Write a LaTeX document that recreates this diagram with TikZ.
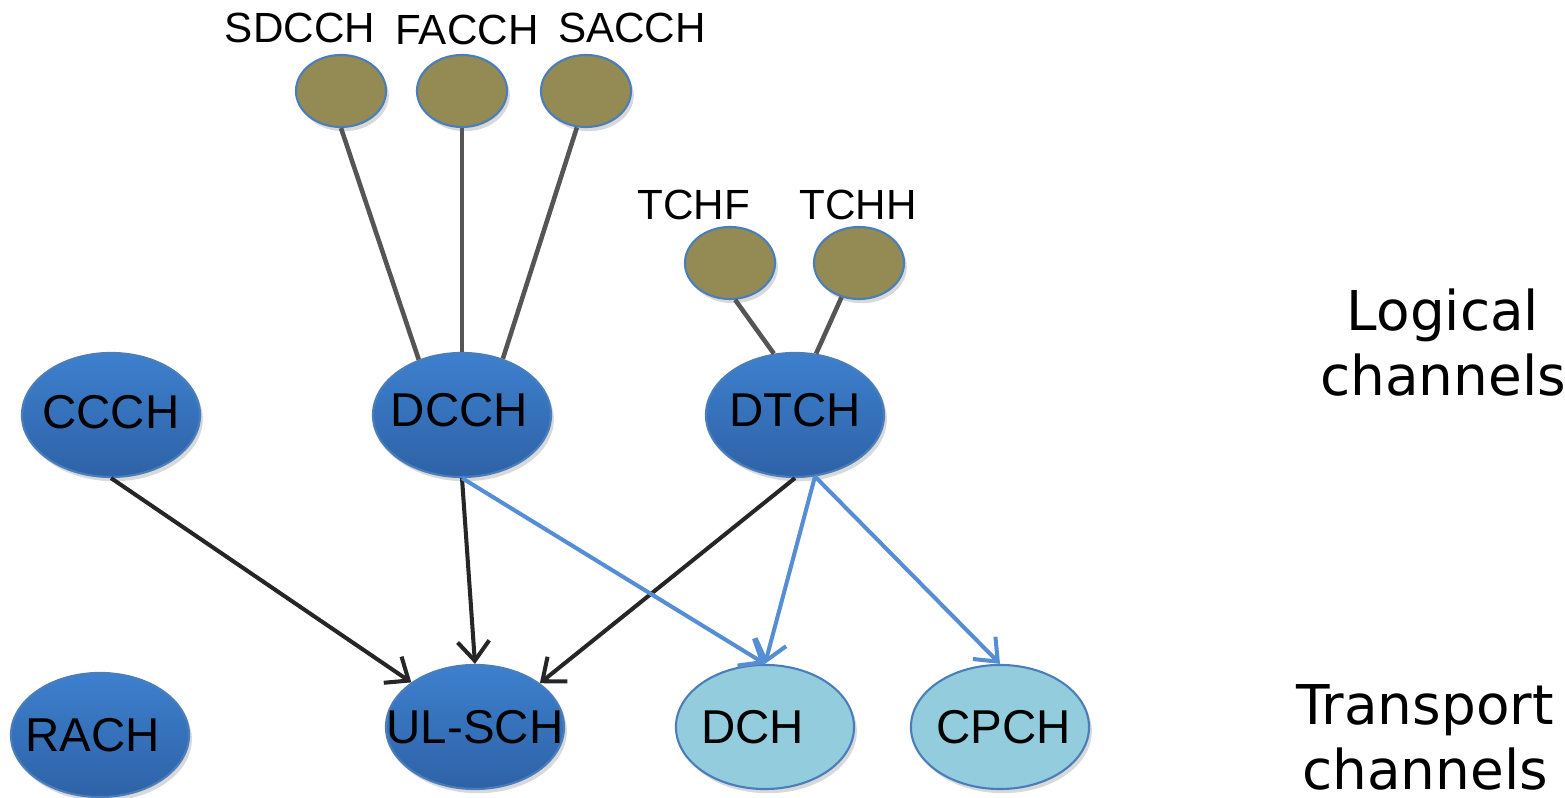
\documentclass[tikz,border=0pt]{standalone}
\usepackage{fontspec}
\setmainfont{Liberation Sans}
\newfontfamily\sidefont{DejaVu Sans}
\usetikzlibrary{shapes.geometric,arrows.meta,shadows}

\definecolor{chantop}{HTML}{3D80CE}
\definecolor{chanbot}{HTML}{2E62A6}
\definecolor{chanline}{HTML}{4A7EBB}
\definecolor{subfill}{HTML}{948A54}
\definecolor{trfill}{HTML}{93CDDD}
\definecolor{linkgray}{HTML}{555555}
\definecolor{mapblack}{HTML}{262626}
\definecolor{mapblue}{HTML}{558ED5}

% text that does not widen its ellipse, optionally raised
\newcommand{\chantxt}[2][0pt]{\makebox[0pt]{\raisebox{#1}{#2}}}

\begin{document}
\begin{tikzpicture}[x=0.01cm,y=-0.01cm,
  chan node/.style={ellipse,draw=chanline,line width=0.6pt,minimum width=1.78cm,minimum height=1.24cm,inner sep=0pt,top color=chantop,bottom color=chanbot,font=\fontsize{13.5}{16}\selectfont,drop shadow={opacity=0.3,shadow xshift=0.8pt,shadow yshift=-1.2pt}},
  tr node/.style={chan node,top color=trfill,bottom color=trfill},
  sub node/.style={ellipse,draw=chanline,line width=0.6pt,fill=subfill,minimum width=0.9cm,minimum height=0.72cm,inner sep=0pt,drop shadow={opacity=0.3,shadow xshift=0.8pt,shadow yshift=-1.2pt}},
  sub label/.style={font=\fontsize{12}{14}\selectfont},
  side label/.style={align=center,font=\sidefont\fontsize{15.6}{18.5}\selectfont},
  link/.style={draw=linkgray,line width=1.3pt},
  map/.style={line width=1.15pt,-{Straight Barb[length=5.5pt,width=9pt]}}]

\useasboundingbox (0,0) rectangle (1565,798);

% logical channels
\node[chan node] (ccch) at (111,415) {\chantxt[2pt]{CCCH}};
\node[chan node] (dcch) at (462,415) {\chantxt[2.8pt]{DCCH\hspace{1.5pt}}};
\node[chan node] (dtch) at (795,415) {\chantxt[3pt]{DTCH}};

% sub channels
\node[sub node] (sdcch) at (341,91) {};
\node[sub node] (facch) at (462,91) {};
\node[sub node] (sacch) at (586,91) {};
\node[sub node] (tchf) at (730,263) {};
\node[sub node] (tchh) at (859,263) {};

\node[sub label] (sdcchlbl) at (300,28) {SDCCH};
\node[sub label] (facchlbl) at (467,30) {FACCH};
\node[sub label] (sacchlbl) at (632,28) {SACCH};
\node[sub label] (tchflbl) at (694,205) {TCHF};
\node[sub label] (tchhlbl) at (858,205) {TCHH};

% transport channels
\node[chan node] (rach) at (100,735) {\chantxt{RACH\hspace{4pt}}};
\node[chan node] (ulsch) at (475,727) {\chantxt{UL-SCH}};
\node[tr node] (dch) at (765,727) {\chantxt{DCH\hspace{7pt}}};
\node[tr node] (cpch) at (1000,727) {\chantxt{\hspace{2pt}CPCH}};

\node[side label] (logical) at (1443,343) {Logical\\channels};
\node[side label] (transport) at (1425,737) {Transport\\channels};

\draw[link] (sdcch.south) -- (dcch.128);
\draw[link] (facch.south) -- (dcch.north);
\draw[link] (sacch.256) -- (dcch.54);
\draw[link] (tchf.278) -- (dtch.109);
\draw[link] (tchh.243) -- (dtch.71);

\draw[map,mapblack] (ccch.south) -- (ulsch.145);
\draw[map,mapblack] (dcch.south) -- (ulsch.north);
\draw[map,mapblack] (dtch.south) -- (ulsch.34);
\draw[map,mapblue] (dcch.south) -- (dch.north);
\draw[map,mapblue] (dtch.288) -- (dch.north);
\draw[map,mapblue] (dtch.288) -- (cpch.north);
\end{tikzpicture}
\end{document}
